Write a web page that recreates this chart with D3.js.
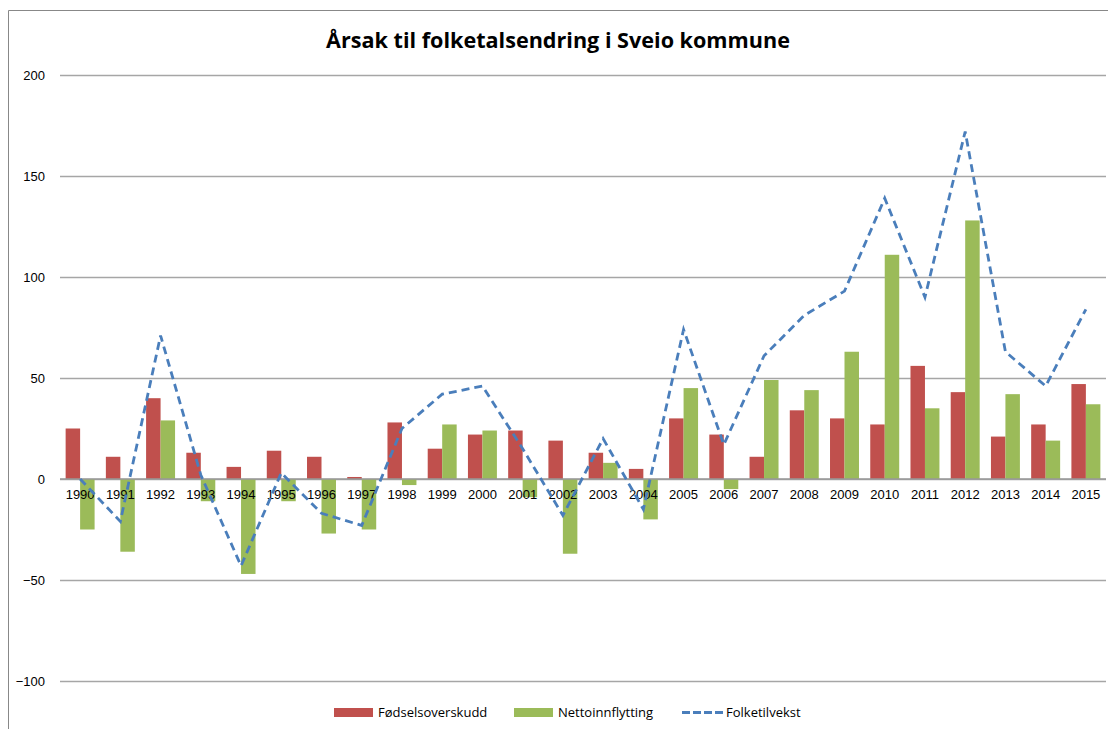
<!DOCTYPE html>
<html>
<head>
<meta charset="utf-8">
<script src="https://cdn.jsdelivr.net/npm/d3@7"></script>
<style>
  body { margin: 0; background: #fff; }
  svg { display: block; font-family: "Open Sans", "Liberation Sans", sans-serif; }
</style>
</head>
<body>
<svg width="1108" height="729"></svg>
<script>
// data
const years = d3.range(1990, 2016).map(String);
const fodsel = [25, 11, 40, 13, 6, 14, 11, 1, 28, 15, 22, 24, 19, 13, 5, 30, 22, 11, 34, 30, 27, 56, 43, 21, 27, 47];
const netto = [-25, -36, 29, -11, -47, -11, -27, -25, -3, 27, 24, -9, -37, 8, -20, 45, -5, 49, 44, 63, 111, 35, 128, 42, 19, 37];
const vekst = [0, -21, 71, 2, -43, 3, -17, -23, 25, 42, 46, 15, -18, 20, -15, 74, 17, 61, 81, 93, 139, 90, 172, 63, 46, 84];
const yTicks = [-100, -50, 0, 50, 100, 150, 200];

const title = "Årsak til folketalsendring i Sveio kommune";
const seriesNames = ["Fødselsoverskudd", "Nettoinnflytting", "Folketilvekst"];
const colors = ["#c0504d", "#9bbb59", "#4a7ebb"];

const width = 1108, height = 729;

const svg = d3.select("svg");

// chart frame (cropped, only left + top visible)
svg.append("path")
    .attr("d", `M8.5,${height} V10.5 H${width}`)
    .attr("fill", "none")
    .attr("stroke", "#888")
    .attr("stroke-width", 1);

const x = d3.scaleBand()
    .domain(years)
    .range([60, 1106])
    .paddingInner(0.28)
    .paddingOuter(0.14);

const xLine = d => x(d) + x.bandwidth() / 2;

const y = d3.scaleLinear()
    .domain([-100, 200])
    .range([681, 75]);

// gridlines + y labels
const yAxis = svg.append("g")
    .attr("transform", "translate(60,0)")
    .call(d3.axisLeft(y).tickValues(yTicks).tickSize(-(1106 - 60)).tickPadding(15))
    .call(g => g.select(".domain").remove());
yAxis.selectAll(".tick line")
    .attr("stroke", "#a6a6a6")
    .attr("stroke-width", 1.3);
yAxis.selectAll(".tick text")
    .attr("fill", "#000")
    .attr("font-size", 13);

// bars
const sub = d3.scaleBand().domain([0, 1]).range([0, x.bandwidth()]);

svg.append("g").selectAll("rect")
    .data(years.map((yr, i) => ({yr, v: fodsel[i]})))
    .join("rect")
    .attr("x", d => x(d.yr) + sub(0))
    .attr("width", sub.bandwidth())
    .attr("y", d => y(Math.max(0, d.v)))
    .attr("height", d => Math.abs(y(d.v) - y(0)))
    .attr("fill", colors[0]);

svg.append("g").selectAll("rect")
    .data(years.map((yr, i) => ({yr, v: netto[i]})))
    .join("rect")
    .attr("x", d => x(d.yr) + sub(1))
    .attr("width", sub.bandwidth())
    .attr("y", d => y(Math.max(0, d.v)))
    .attr("height", d => Math.abs(y(d.v) - y(0)))
    .attr("fill", colors[1]);

// zero axis line
svg.append("line")
    .attr("x1", 60).attr("x2", 1106)
    .attr("y1", y(0)).attr("y2", y(0))
    .attr("stroke", "#999")
    .attr("stroke-width", 1.3);

// year labels just below zero
svg.append("g")
    .attr("transform", `translate(0,${y(0)})`)
    .call(d3.axisBottom(x).tickSize(0).tickPadding(11))
    .call(g => g.select(".domain").remove())
    .selectAll("text")
    .attr("fill", "#000")
    .attr("font-size", 13);

// folketilvekst line
const line = d3.line()
    .x((d, i) => xLine(years[i]))
    .y(d => y(d));

svg.append("path")
    .datum(vekst)
    .attr("fill", "none")
    .attr("stroke", colors[2])
    .attr("stroke-width", 2.8)
    .attr("stroke-dasharray", "8,5")
    .attr("d", line);

// title
svg.append("text")
    .attr("x", 558)
    .attr("y", 48)
    .attr("text-anchor", "middle")
    .attr("font-size", 21.6)
    .attr("font-weight", "bold")
    .attr("fill", "#000")
    .text(title);

// legend
const legend = svg.append("g").attr("font-size", 13);
const legX = [334, 514, 682];
legX.forEach((lx, i) => {
    if (i < 2) {
        legend.append("rect")
            .attr("x", lx).attr("y", 708)
            .attr("width", 39).attr("height", 9)
            .attr("fill", colors[i]);
    } else {
        legend.append("line")
            .attr("x1", lx).attr("x2", lx + 41)
            .attr("y1", 712.5).attr("y2", 712.5)
            .attr("stroke", colors[2])
            .attr("stroke-width", 2.8)
            .attr("stroke-dasharray", "8,3");
    }
    legend.append("text")
        .attr("x", lx + 44)
        .attr("y", 717)
        .attr("fill", "#000")
        .text(seriesNames[i]);
});
</script>
</body>
</html>
